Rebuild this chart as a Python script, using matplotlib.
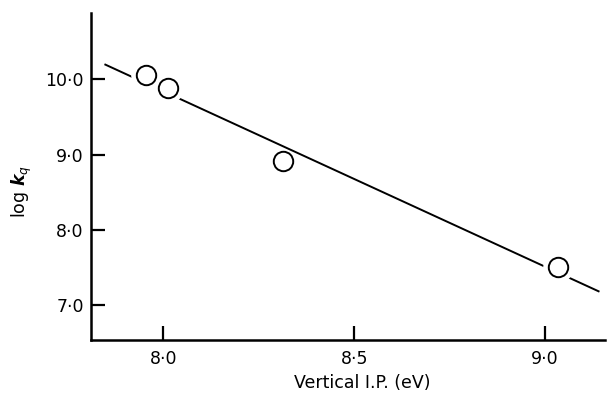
import numpy as np
import matplotlib.pyplot as plt

plt.rcParams['font.family'] = ['DejaVu Sans']
plt.rcParams['mathtext.fontset'] = 'dejavusans'

# measured points: vertical ionisation potential (eV) vs log kq
ip = [7.955, 8.012, 8.313, 9.035]
log_kq = [10.06, 9.88, 8.91, 7.51]

# straight line drawn through the data (end points)
fit_x = [7.846, 9.1425]
fit_y = [10.20, 7.177]

xticks = [8.0, 8.5, 9.0]
yticks = [7.0, 8.0, 9.0, 10.0]
xlabels = ['8·0', '8·5', '9·0']
ylabels = ['7·0', '8·0', '9·0', '10·0']

fig = plt.figure(figsize=(6.1, 3.95), dpi=100)
ax = fig.add_axes([0.1487, 0.1392, 0.9918 - 0.1487, 0.967 - 0.1392])

ax.plot(fit_x, fit_y, color='black', lw=1.4, zorder=1, solid_capstyle='butt')

# white halo so the line stops short of the circles (not for the one it just touches)
halo = [0, 1, 3]
ax.plot(np.array(ip)[halo], np.array(log_kq)[halo], 'o', ms=22, color='white',
        mec='none', zorder=2)
ax.plot(ip, log_kq, 'o', ms=14, mfc='white', mec='black', mew=1.4, zorder=3)

ax.set_xlim(7.810, 9.157)
ax.set_ylim(6.535, 10.88)

for side in ['top', 'right']:
    ax.spines[side].set_visible(False)
for side in ['left', 'bottom']:
    ax.spines[side].set_linewidth(1.8)

ax.set_xticks(xticks)
ax.set_xticklabels(xlabels)
ax.set_yticks(yticks)
ax.set_yticklabels(ylabels)
ax.tick_params(axis='both', direction='in', length=10, width=1.6, labelsize=12.5)
ax.tick_params(axis='x', pad=7)
ax.tick_params(axis='y', pad=5)

ax.set_xlabel('Vertical I.P. (eV)', fontsize=12.5)
ax.xaxis.set_label_coords((362 - 90.7) / (605 - 90.7), -0.104)
ax.set_ylabel(r'log $\boldsymbol{k}_q$', fontsize=12.5)
ax.yaxis.set_label_coords(-0.11, (340 - 191) / (340 - 13))

fig.savefig('out.png', dpi=100)
